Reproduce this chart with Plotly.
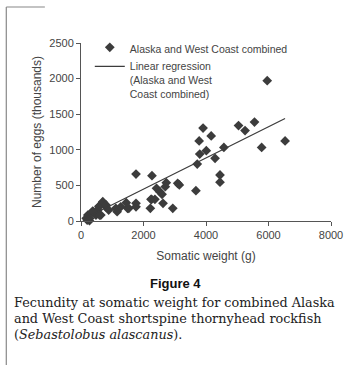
import plotly.graph_objects as go

# Somatic weight (g) and fecundity (thousands of eggs), one entry per fish
weight_g = [
    271, 167, 219, 323, 375, 479, 531, 583, 635, 688, 792, 885, 281, 198, 385, 573, 594, 698, 800,
    1115, 1156, 1271, 1448, 1490, 1531, 1760, 1760, 1760,
    2219, 2240, 2260, 2365, 2417, 2520, 2594, 2625, 2697, 2729, 2937, 3094, 3146, 2271,
    3677, 3720, 3781, 3800, 3906, 4010, 4166, 4290, 4448, 4448, 4572,
    5041, 5250, 5552, 5781, 5959, 6531,
]
eggs_thousands = [
    5, 38, 84, 108, 140, 84, 154, 210, 84, 257, 200, 154, 38, 14, 130, 200, 84, 271, 225,
    178, 131, 200, 257, 178, 178, 660, 248, 200,
    178, 305, 305, 305, 459, 412, 375, 248, 482, 538, 178, 530, 506, 636,
    426, 800, 1124, 940, 1306, 987, 1194, 880, 646, 545, 1034,
    1340, 1270, 1390, 1034, 1970, 1124,
]

# Fitted regression line, end points
reg_weight = [100, 6530]
reg_eggs = [31, 1439]

x_ticks = [0, 2000, 4000, 6000, 8000]
y_ticks = [0, 500, 1000, 1500, 2000, 2500]

caption_lines = [
    "Fecundity at somatic weight for combined Alaska",
    "and West Coast shortspine thornyhead rockfish",
    "(<i>Sebastolobus alascanus</i>).",
]

W, H = 355, 365
L, R, T, B = 81, 18, 43, 144
pw, ph = W - L - R, H - T - B


def px(x):
    return (x - L) / pw


def py(y):
    return (H - B - y) / ph


fig = go.Figure()
fig.add_trace(go.Scatter(
    x=weight_g, y=eggs_thousands, mode="markers",
    name="Alaska and West Coast combined",
    marker=dict(symbol="diamond", size=7.5, color="#3c3c3c"),
    cliponaxis=False,
))
fig.add_trace(go.Scatter(
    x=reg_weight, y=reg_eggs, mode="lines",
    name="Linear regression<br>(Alaska and West<br>Coast combined)",
    line=dict(color="#3c3c3c", width=1.2),
))

axis_common = dict(
    showgrid=False, zeroline=False, showline=True, linecolor="#555", linewidth=1,
    ticks="outside", ticklen=4, tickcolor="#555", tickwidth=1,
    tickfont=dict(family="Liberation Sans, Arial, sans-serif", size=11, color="#444"),
    title_font=dict(family="Liberation Sans, Arial, sans-serif", size=12, color="#444"),
)
fig.update_xaxes(range=[0, 8000], tickvals=x_ticks, title_text="Somatic weight (g)",
                 title_standoff=11, **axis_common)
fig.update_yaxes(range=[0, 2500], tickvals=y_ticks, title_text="Number of eggs (thousands)",
                 title_standoff=5, **axis_common)

annotations = [
    dict(text="<b>Figure 4</b>", x=px(178), y=py(283), xref="paper", yref="paper",
         showarrow=False, xanchor="center", yanchor="middle",
         font=dict(family="Liberation Sans, Arial, sans-serif", size=13, color="#111")),
]
for i, line in enumerate(caption_lines):
    annotations.append(dict(
        text=line, x=px(10), y=py(302 + 16 * i), xref="paper", yref="paper",
        showarrow=False, xanchor="left", yanchor="middle",
        font=dict(family="DejaVu Serif, serif", size=12.8, color="#222"),
    ))

shapes = [
    dict(type="line", xref="paper", yref="paper", x0=px(4.5), x1=px(4.5), y0=py(7), y1=py(365),
         line=dict(color="#888", width=1.2)),
    dict(type="line", xref="paper", yref="paper", x0=px(4.5), x1=px(44), y0=py(7), y1=py(7),
         line=dict(color="#888", width=1.2)),
]

fig.update_layout(
    width=W, height=H, margin=dict(l=L, r=R, t=T, b=B),
    paper_bgcolor="white", plot_bgcolor="white",
    showlegend=True,
    legend=dict(x=px(90), y=py(34), xanchor="left", yanchor="top", valign="top",
                bgcolor="rgba(0,0,0,0)",
                font=dict(family="Liberation Sans, Arial, sans-serif", size=10.5, color="#444")),
    annotations=annotations, shapes=shapes,
)

fig.write_html("out.html")
